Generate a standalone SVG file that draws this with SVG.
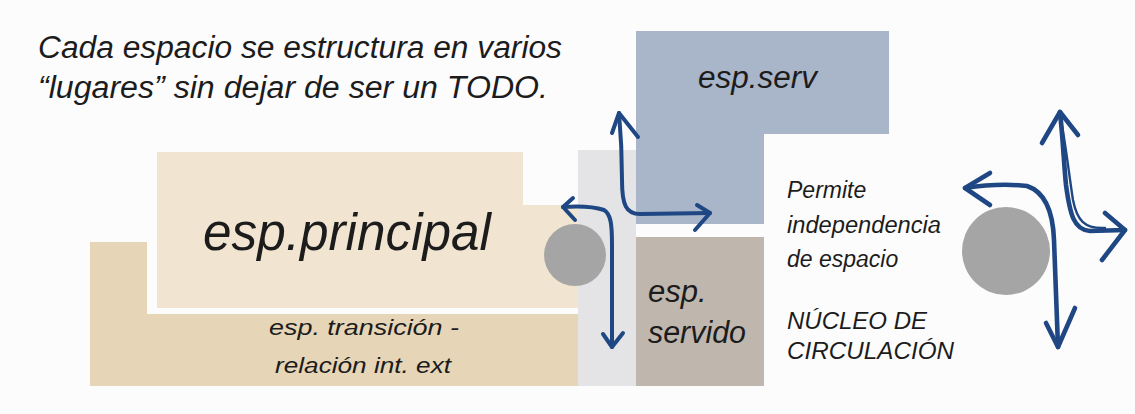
<svg xmlns="http://www.w3.org/2000/svg" width="1135" height="414" viewBox="0 0 1135 414">
<defs>
<style>
text{font-family:"Liberation Sans",Arial,sans-serif;font-style:italic;fill:#1c1c1c}
.arr{fill:none;stroke:#1e4783;stroke-width:4;stroke-linecap:round;stroke-linejoin:round}
.head{fill:none;stroke:#1e4783;stroke-width:4;stroke-linecap:round;stroke-linejoin:round}
.big{stroke-width:4.6}
.core{fill:#a5a5a5}
</style>
</defs>
<rect x="0" y="0" width="1135" height="414" fill="#fcfcfc"/>
<g id="title">
<text x="38" y="58" font-size="31" textLength="524" lengthAdjust="spacingAndGlyphs">Cada espacio se estructura en varios</text>
<text x="38" y="98" font-size="31" textLength="510" lengthAdjust="spacingAndGlyphs">“lugares” sin dejar de ser un TODO.</text>
</g>
<g id="transicion">
<path d="M90,242 H147 V314 H578 V386 H90 Z" fill="#e6d5b6"/>
<text x="269" y="335" font-size="22" textLength="190" lengthAdjust="spacingAndGlyphs">esp. transición -</text>
<text x="275" y="373" font-size="22" textLength="176" lengthAdjust="spacingAndGlyphs">relación int. ext</text>
</g>
<g id="principal">
<path d="M157,152 H523 V205 H578 V308 H157 Z" fill="#f1e5d1"/>
<text x="203" y="250" font-size="51" textLength="288" lengthAdjust="spacingAndGlyphs">esp.principal</text>
</g>
<g id="circulacion">
<rect x="578" y="150" width="58" height="236" fill="#e4e4e7"/>
<circle class="core" cx="575" cy="255" r="31"/>
</g>
<g id="serv">
<path d="M636,31 H889 V134 H764 V224 H636 Z" fill="#a9b5c8"/>
<text x="698" y="88" font-size="31" textLength="119" lengthAdjust="spacingAndGlyphs">esp.serv</text>
</g>
<g id="servido">
<rect x="636" y="237" width="128" height="149" fill="#bfb6ad"/>
<text x="648" y="302" font-size="31">esp.</text>
<text x="648" y="343" font-size="31" textLength="98" lengthAdjust="spacingAndGlyphs">servido</text>
</g>
<g id="nucleo">
<text x="787" y="198" font-size="23">Permite</text>
<text x="787" y="233" font-size="23" textLength="154" lengthAdjust="spacingAndGlyphs">independencia</text>
<text x="787" y="267" font-size="23">de espacio</text>
<text x="787" y="329" font-size="24">NÚCLEO DE</text>
<text x="787" y="359" font-size="24" textLength="167" lengthAdjust="spacingAndGlyphs">CIRCULACIÓN</text>
<circle class="core" cx="1006" cy="251" r="44"/>
</g>
<g id="connectors">
<path class="arr" d="M563,207 C578,206 595,207 604,210 C611,214 612,225 612,245 L612,347"/>
<path class="head" d="M573,198 L563,207 L575,220"/>
<path class="head" d="M603,334 L612,347 L623,333"/>
<path class="arr" d="M619,113 C621,135 622,160 622,180 C622,205 626,214 640,214 L710,213"/>
<path class="head" d="M612,133 L619,113 L638,137"/>
<path class="head" d="M697,205 L710,213 L695,230"/>
<path class="arr big" d="M965,188 C985,185 1010,184 1027,186 C1045,192 1053,212 1054,240 L1058,347"/>
<path class="head big" d="M990,173 L965,188 L990,205"/>
<path class="head big" d="M1046,323 L1058,347 L1075,308"/>
<path class="arr big" d="M1060,112 C1063,140 1064,165 1066,185 C1070,215 1074,230 1090,231 L1125,230"/>
<path class="arr" d="M1060,115 C1066,145 1069,175 1073,200 C1077,220 1084,229 1105,228" style="stroke-width:2.4"/>
<path class="head big" d="M1042,143 L1060,112 L1078,135"/>
<path class="head big" d="M1105,213 L1125,230 L1102,260"/>
</g>
</svg>
